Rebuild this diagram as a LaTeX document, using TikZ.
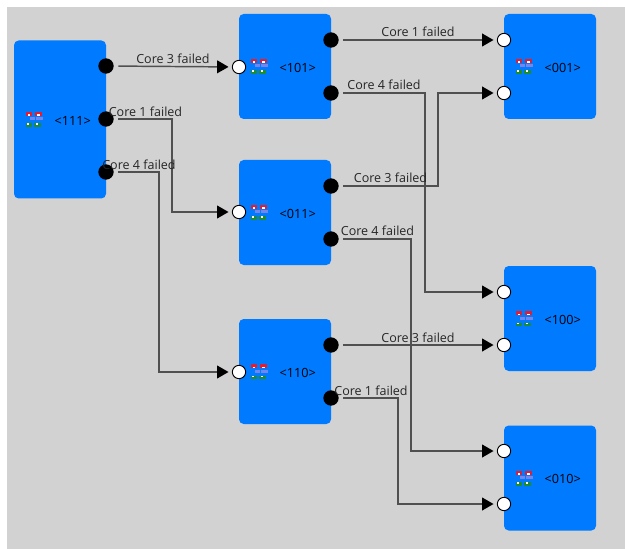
\documentclass[tikz,border=0pt]{standalone}
\usepackage{fontspec}
\setmainfont{Open Sans}
\usetikzlibrary{arrows.meta}
\definecolor{panelgray}{RGB}{210,210,210}
\definecolor{stateblue}{RGB}{0,122,255}
\definecolor{linkgray}{RGB}{80,80,80}
\definecolor{iconred}{RGB}{225,30,50}
\definecolor{iconblue}{RGB}{60,80,225}
\definecolor{icongreen}{RGB}{30,140,50}
\tikzset{
  statebox/.style={draw=none,fill=stateblue,rounded corners=3.5pt,minimum width=69pt,inner sep=0pt},
  statelab/.style={font=\fontsize{9.5}{11}\selectfont,text=black,inner sep=0pt},
  outport/.style={circle,fill=black,minimum size=11.5pt,inner sep=0pt},
  inport/.style={circle,draw=black,fill=white,line width=0.7pt,minimum size=10pt,inner sep=0pt},
  link/.style={draw=linkgray,line width=1.1pt,shorten <=3.3pt,shorten >=2.5pt,-{Triangle[length=8.5pt,width=9.5pt,color=black]}},
  linklab/.style={font=\fontsize{9.4}{11}\selectfont,text=black!85,inner sep=0pt},
  pics/stateicon/.style={code={
    \fill[iconred] (-8,-7.5) rectangle (-1.5,-3.5); \fill[iconred] (1,-7.5) rectangle (8,-3.5);
    \fill[white] (-6,-5) rectangle (-3.5,-3.5); \fill[white] (3,-5) rectangle (6,-3.5);
    \fill[iconblue!70!white] (-4,-2) rectangle (1,1); \fill[iconblue!70!white] (2.5,-2) rectangle (9,1);
    \fill[icongreen] (-8,4) rectangle (-2,7.5); \fill[icongreen] (0,4) rectangle (7,7.5);
    \fill[white] (-6.5,4) rectangle (-4.5,5.5); \fill[white] (2,4) rectangle (4.5,5.5);
  }}
}
\begin{document}
\begin{tikzpicture}[x=0.75pt,y=-0.75pt]
  \useasboundingbox (0,0) rectangle (625,549);
  \fill[panelgray] (7,7) rectangle (625,549);
  % states
  \foreach \n/\x/\y/\h in {111/60/119.5/118.5pt,101/285/66.5/78.75pt,011/285/212.5/78.75pt,110/285/371.5/78.75pt,001/550/66.5/78.75pt,100/550/318.5/78.75pt,010/550/478/78.75pt}{
    \node[statebox,minimum height=\h] (s\n) at (\x,\y) {};
    \pic at ([xshift=15pt]s\n.west) {stateicon};
    \node[statelab] (l\n) at ([xshift=44.25pt,yshift=-0.75pt]s\n.west) {<\n>};
  }
  % ports
  \node[outport] (o111a) at (106,66) {}; \node[outport] (o111b) at (106,119) {}; \node[outport] (o111c) at (106,172) {};
  \node[outport] (o101a) at (331,40) {}; \node[outport] (o101b) at (331,93) {};
  \node[outport] (o011a) at (331,186) {}; \node[outport] (o011b) at (331,239) {};
  \node[outport] (o110a) at (331,345) {}; \node[outport] (o110b) at (331,398) {};
  \node[inport] (i101) at (239,67) {}; \node[inport] (i011) at (239,212) {}; \node[inport] (i110) at (239,372) {};
  \node[inport] (i001a) at (504,40) {}; \node[inport] (i001b) at (504,93) {};
  \node[inport] (i100a) at (504,292) {}; \node[inport] (i100b) at (504,345) {};
  \node[inport] (i010a) at (504,451) {}; \node[inport] (i010b) at (504,504) {};
  % bends
  \coordinate (c1) at (172,212); \coordinate (c2) at (159,372);
  \coordinate (c3) at (425,292); \coordinate (c4) at (438,186);
  \coordinate (c5) at (411,451); \coordinate (c6) at (398,504);
  % links
  \draw[link] (o111a) -- (i101);
  \draw[link] (o111b) -| (c1) -- (i011);
  \draw[link] (o111c) -| (c2) -- (i110);
  \draw[link] (o101a) -- (i001a);
  \draw[link] (o101b) -| (c3) -- (i100a);
  \draw[link] (o011a) -- (c4) |- (i001b);
  \draw[link] (o011b) -| (c5) -- (i010a);
  \draw[link] (o110a) -- (i100b);
  \draw[link] (o110b) -| (c6) -- (i010b);
  % labels
  \node[linklab] (t1) at (173,59) {Core 3 failed};
  \node[linklab] (t2) at (145.5,112) {Core 1 failed};
  \node[linklab] (t3) at (139,165) {Core 4 failed};
  \node[linklab] (t4) at (418,32) {Core 1 failed};
  \node[linklab] (t5) at (384,85) {Core 4 failed};
  \node[linklab] (t6) at (390.5,178) {Core 3 failed};
  \node[linklab] (t7) at (377.5,231) {Core 4 failed};
  \node[linklab] (t8) at (418,338) {Core 3 failed};
  \node[linklab] (t9) at (371,391) {Core 1 failed};
\end{tikzpicture}
\end{document}
